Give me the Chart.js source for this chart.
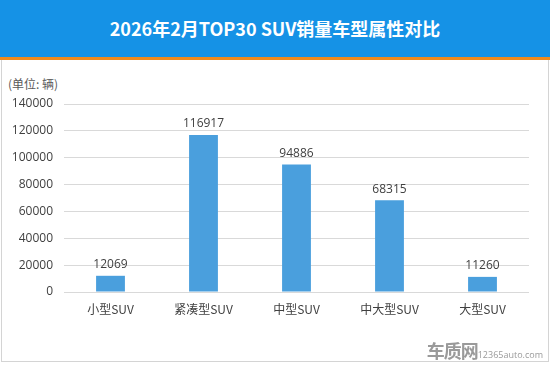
<!DOCTYPE html>
<html>
<head>
<meta charset="utf-8">
<script src="https://cdn.jsdelivr.net/npm/chart.js@4.4.1/dist/chart.umd.min.js"></script>
<style>
  html, body { margin: 0; padding: 0; background: #fff; }
  body { width: 550px; height: 365px; position: relative; overflow: hidden; font-family: "Open Sans", "Noto Sans CJK SC", sans-serif; }
  .banner { position: absolute; left: 0; top: 0; width: 550px; height: 57px; background: #1592e6; color: #fff;
    font: bold 18px "Noto Sans CJK SC", sans-serif; text-align: center; line-height: 57px; }
  .stripe { position: absolute; left: 0; top: 57px; width: 550px; height: 3px; background: #f08a1c; }
  .frame { position: absolute; left: 1px; top: 60px; width: 546px; height: 301px; border: 1px solid #d4d4d4; border-top: none; }
  .unit { position: absolute; left: 8px; top: 75px; font: 12px "Noto Sans CJK SC", sans-serif; color: #595959; }
  .wm { position: absolute; right: 7px; bottom: 2px; color: #9a9a9a; white-space: nowrap; }
  .wm b { font: bold 18px "Noto Sans CJK SC", sans-serif; letter-spacing: -1px; }
  .wm span { font: 9px "Open Sans", sans-serif; }
  #wrap { position: absolute; left: 0; top: 60px; width: 550px; height: 305px; }
</style>
</head>
<body>
<div class="banner">2026年2月TOP30 SUV销量车型属性对比</div>
<div class="stripe"></div>
<div class="frame"></div>
<div class="unit">(单位: 辆)</div>
<div id="wrap"><canvas id="chart"></canvas></div>
<div class="wm"><b>车质网</b><span>12365auto.com</span></div>
<script>
const categories = ['小型SUV', '紧凑型SUV', '中型SUV', '中大型SUV', '大型SUV'];
const sales = [12069, 116917, 94886, 68315, 11260];
const yTicks = [0, 20000, 40000, 60000, 80000, 100000, 120000, 140000];

const valueLabels = {
  id: 'valueLabels',
  afterDatasetsDraw(chart) {
    const ctx = chart.ctx;
    const meta = chart.getDatasetMeta(0);
    ctx.save();
    ctx.font = '12px "Open Sans", sans-serif';
    ctx.fillStyle = '#404040';
    ctx.textAlign = 'center';
    ctx.textBaseline = 'bottom';
    meta.data.forEach((bar, i) => {
      ctx.fillText(String(sales[i]), bar.x, bar.y - 5);
    });
    ctx.restore();
  }
};

new Chart(document.getElementById('chart'), {
  type: 'bar',
  data: {
    labels: categories,
    datasets: [{ label: '销量', data: sales, backgroundColor: '#4a9fdd', borderWidth: 0,
      barPercentage: 0.31, categoryPercentage: 1 }]
  },
  options: {
    responsive: true,
    maintainAspectRatio: false,
    animation: false,
    layout: { padding: { top: 44, right: 21, left: 0, bottom: 0 } },
    plugins: { legend: { display: false }, tooltip: { enabled: false } },
    scales: {
      x: {
        grid: { display: false, drawTicks: false, drawBorder: false },
        border: { display: false },
        ticks: { color: '#404040', font: { size: 12, family: '"Noto Sans CJK SC", sans-serif' }, padding: 10 },
        afterFit(s) { s.height = 73; }
      },
      y: {
        min: 0, max: 140000,
        afterBuildTicks(s) { s.ticks = yTicks.map(v => ({ value: v })); },
        grid: { color: '#d9d9d9', drawTicks: false, drawBorder: false },
        border: { display: false },
        ticks: { color: '#404040', font: { size: 12, family: '"Open Sans", sans-serif' }, padding: 11,
          callback: v => String(v) },
        afterFit(s) { s.width = 64; }
      }
    }
  },
  plugins: [valueLabels]
});
</script>
</body>
</html>
